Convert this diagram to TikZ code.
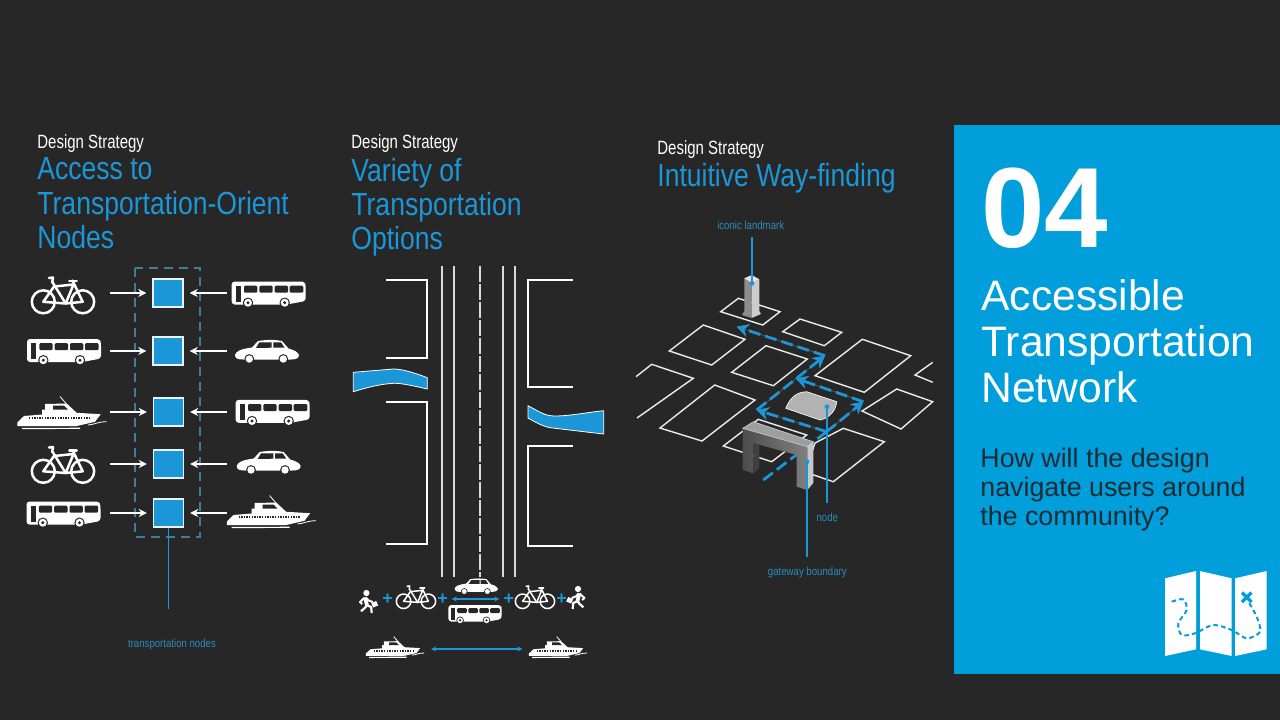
\documentclass[tikz,border=0pt]{standalone}
\usepackage{fontspec}
\usepackage{tikz}
\usetikzlibrary{arrows.meta}
\setmainfont{Liberation Sans}
\newfontfamily\narrowfont[FakeStretch=0.83]{Liberation Sans}
\newfontfamily\headfont[FakeStretch=0.78]{Liberation Sans}
\definecolor{bgdark}{HTML}{272727}
\definecolor{panelblue}{HTML}{009EDA}
\definecolor{stratblue}{HTML}{1B96D6}
\definecolor{notetext}{HTML}{2A8DBF}
\definecolor{dashteal}{HTML}{3A7F9F}
\definecolor{paneltext}{HTML}{1E2B33}
\tikzset{
  nodebox/.style={draw=white!90!stratblue,fill=stratblue,line width=0.7pt,minimum width=15pt,minimum height=14pt,inner sep=0pt},
  modearrow/.style={draw=white,line width=0.75pt,-{Stealth[length=4pt,width=4pt]},shorten >=3pt},
  bluearrow/.style={draw=stratblue,line width=0.75pt,{Stealth[length=2.5pt,width=2.5pt]}-{Stealth[length=2.5pt,width=2.5pt]}},
  plotline/.style={draw=white!92!black,line width=0.7pt,line join=miter},
  routearrow/.style={draw=stratblue,line width=1.4pt,dash pattern=on 6pt off 2.5pt,-{Stealth[length=6pt,width=6.5pt]},preaction={draw=black!62,line width=0.3pt,solid}},
  noteline/.style={draw=stratblue,line width=0.7pt},
  notetextstyle/.style={text=notetext,font=\narrowfont\fontsize{5.8}{6.5}\selectfont,inner sep=1.5pt},
  headstyle/.style={text=white,font=\headfont\fontsize{9.6}{11}\selectfont,anchor=base west,inner sep=0pt},
  titlestyle/.style={text=stratblue,font=\narrowfont\fontsize{16}{17.2}\selectfont,anchor=north west,align=left,inner sep=0pt},
  plusstyle/.style={text=stratblue,font=\bfseries\fontsize{9}{9}\selectfont,inner sep=0pt},
  busicon/.pic={
    \fill [white,rounded corners=1.5] (-37,-12.5) -- (36,-12.5) -- (37,-8) -- (37,7) -- (18,10.5) -- (-37,10.5) -- cycle;
    \fill [bgdark] (-32.7,-8.3) rectangle (-27.7,7.7);
    \fill [bgdark,rounded corners=0.6] (-24.7,-8.3) rectangle (-11.3,-1.3);
    \fill [bgdark,rounded corners=0.6] (-9.3,-8.3) rectangle (4,-1.3);
    \fill [bgdark,rounded corners=0.6] (6,-8.3) rectangle (19.3,-1.3);
    \fill [bgdark,rounded corners=0.6] (21,-8.3) rectangle (34.7,-1.3);
    \fill [bgdark] (-20.7,8.7) circle (5.2);
    \fill [white] (-20.7,8.7) circle (4);
    \fill [bgdark] (-20.7,8.7) circle (1.7);
    \fill [bgdark] (16,8.7) circle (5.2);
    \fill [white] (16,8.7) circle (4);
    \fill [bgdark] (16,8.7) circle (1.7);
  },
  caricon/.pic={
    \fill [white] (-32,3) .. controls (-31,-1) and (-26,-3) .. (-15,-4.5) -- (-9,-11) .. controls (0,-12.5) and (8,-12.5) .. (15,-11) -- (21.5,-3.5) .. controls (27,-2) and (31,0) .. (32,3) .. controls (32,6.5) and (28,7.5) .. (24,7.5) -- (-24,7.5) .. controls (-29,7.5) and (-32,6.5) .. (-32,3) -- cycle;
    \fill [bgdark] (-7.7,-9.7) -- (4.7,-9.7) -- (4.7,-4.3) -- (-11,-4.1) -- cycle;
    \fill [bgdark] (6.3,-9.7) -- (14,-9.7) -- (17.5,-4.3) -- (6.3,-4.3) -- cycle;
    \fill [bgdark] (-17.7,7) circle (4.9);
    \fill [white] (-17.7,7) circle (3.7);
    \fill [bgdark] (16.3,7) circle (4.9);
    \fill [white] (16.3,7) circle (3.7);
  },
  bikeicon/.pic={
    \draw [white,line cap=round,line join=round] (-19.7,6.3) circle (11.5);
    \draw [white,line cap=round,line join=round] (19.7,6.3) circle (11.5);
    \draw [white,line cap=round,line join=round] (-19.7,6.3) -- (-9,-9) -- (10.5,-11) -- (2.7,8) -- cycle;
    \draw [white,line cap=round,line join=round] (-10.3,-13) -- (2.7,8) -- (19.7,6.3) -- (9.5,-15);
    \draw [white,line cap=round,line join=round] (-14,-17.5) -- (-10,-18) -- (-10.8,-13);
    \draw [white,line cap=round,line join=round] (6.3,-14.7) -- (13.7,-14.7);
  },
  boaticon/.pic={
    \fill [white] (-44.7,10) -- (-38,3.5) -- (-20,2) -- (-20,-3) -- (-17,-3) -- (-17,-8.5) -- (4.7,-9) -- (14.7,0.3) -- (38.7,1.7) -- (33,9.3) -- (14.7,13.5) -- (-44.7,13.5) -- cycle;
    \fill [bgdark] (-9,-7) -- (2,-7) -- (6,-3) -- (-9,-3) -- cycle;
    \draw [bgdark,line width=1pt,dash pattern=on 0.7pt off 0.6pt] (-33,5.5) -- (28,5.5);
    \draw [white,line width=0.4pt] (-2,-16) -- (4.7,-8.3);
    \draw [white,line width=0.6pt] (-40,16) -- (18,15.8);
    \draw [white,line width=0.4pt] (26,12.5) .. controls (33,12) and (36,9) .. (44.7,9.3);
  },
  walkericon/.pic={
    \fill [white] (-1.3,-9) circle (3.1);
    \draw [white,line width=1.9pt] (-2.6,-4.5) -- (-0.7,3.3);
    \draw [white,line width=1.1pt,line join=round] (-0.7,3.3) -- (-3,6) -- (-6.7,9.3);
    \draw [white,line width=1.1pt,line join=round] (-0.7,3.3) -- (3.5,5) -- (4,11);
    \draw [white,line width=1pt,line join=round] (-3,-4.5) -- (-7.7,0) -- (-5.5,2);
    \draw [white,line width=1pt,line join=round] (-2,-4.5) -- (1,-1.5) -- (5,0);
    \fill [white] (3.5,1) -- (8.5,-1) -- (10.5,3.5) -- (5.5,5.5) -- cycle;
  },
}
\begin{document}
\begin{tikzpicture}[x=0.5pt,y=-0.5pt]
  \useasboundingbox (0,0) rectangle (1280,720);
  \fill [bgdark] (0,0) rectangle (1280,720);

  \node [headstyle] (headA) at (37,148) {Design Strategy};
  \node [titlestyle] (titleA) at (37,157.5) {Access to\\Transportation-Orient\\Nodes};
  \node [headstyle] (headB) at (351,148) {Design Strategy};
  \node [titlestyle] (titleB) at (351,157.5) {Variety of\\Transportation\\Options};
  \node [headstyle] (headC) at (657,154) {Design Strategy};
  \node [titlestyle] (titleC) at (657,163) {Intuitive Way-finding};

  \draw [dashteal,line width=0.6pt,dash pattern=on 4.5pt off 3pt] (135,268) rectangle (200,537);
  \node [nodebox] (n1) at (168,293) {};
  \node [nodebox] (n2) at (168,351) {};
  \node [nodebox] (n3) at (168.5,412) {};
  \node [nodebox] (n4) at (168.5,464) {};
  \node [nodebox] (n5) at (168.5,513) {};
  \coordinate (l1) at (110,293);
  \coordinate (l2) at (110,351);
  \coordinate (l3) at (110,412);
  \coordinate (l4) at (110,464);
  \coordinate (l5) at (110,513);
  \coordinate (r1) at (227,293);
  \coordinate (r2) at (227,351);
  \coordinate (r3) at (227,412);
  \coordinate (r4) at (227,464);
  \coordinate (r5) at (227,513);
  \draw [modearrow] (l1) -- (n1);
  \draw [modearrow] (l2) -- (n2);
  \draw [modearrow] (l3) -- (n3);
  \draw [modearrow] (l4) -- (n4);
  \draw [modearrow] (l5) -- (n5);
  \draw [modearrow] (r1) -- (n1);
  \draw [modearrow] (r2) -- (n2);
  \draw [modearrow] (r3) -- (n3);
  \draw [modearrow] (r4) -- (n4);
  \draw [modearrow] (r5) -- (n5);
  \pic [line width=1.25pt] (bikeA) at (63,295.5) {bikeicon};
  \pic (busA) at (64,351.5) {busicon};
  \pic (boatA) at (62,412.5) {boaticon};
  \pic [line width=1.25pt] (bikeB) at (63,465) {bikeicon};
  \pic (busB) at (63.5,514) {busicon};
  \pic (busC) at (268.7,294) {busicon};
  \pic (carA) at (267,352) {caricon};
  \pic (busD) at (272.7,412.3) {busicon};
  \pic (carB) at (268.7,463) {caricon};
  \pic (boatB) at (271.5,511.5) {boaticon};
  \coordinate (nodesend) at (168.5,609);
  \draw [noteline] (n5) -- (nodesend);
  \node [notetextstyle] (nodeslabel) at (172,644) {transportation nodes};

  \draw [white,line width=0.9pt] (386,280) -- (427,280) -- (427,358) -- (386,358);
  \draw [white,line width=0.9pt] (386,402) -- (427,402) -- (427,544) -- (386,544);
  \draw [white,line width=0.9pt] (573,280) -- (528,280) -- (528,387) -- (573,387);
  \draw [white,line width=0.9pt] (573,446) -- (528,446) -- (528,546) -- (573,546);
  \draw [white!85!black,line width=0.7pt] (442,266) -- (442,577);
  \draw [white!85!black,line width=0.7pt] (454,266) -- (454,577);
  \draw [white!85!black,line width=0.7pt] (503,266) -- (503,577);
  \draw [white!85!black,line width=0.7pt] (515,266) -- (515,577);
  \draw [white!85!black,line width=0.7pt,dash pattern=on 8pt off 1pt] (480,266) -- (480,577);
  \draw [white,fill=stratblue,line width=0.4pt] (353.3,372.3) -- (393.3,369) .. controls (400,369) and (410,371) .. (427.3,377.7) -- (427.3,389) .. controls (410,385) and (400,383) .. (393.3,383.3) .. controls (380,384) and (365,388) .. (353.3,391.7) -- cycle;
  \draw [white,fill=stratblue,line width=0.4pt] (528,405.7) .. controls (540,412) and (545,416) .. (555,416) .. controls (570,416) and (590,412) .. (603.7,410.7) -- (603.7,434) -- (550,427.7) .. controls (542,426) and (535,422) .. (528,418) -- cycle;

  \pic [xscale=-1] (walkerA) at (576.7,598) {walkericon};
  \pic (walkerB) at (367.7,602) {walkericon};
  \node [plusstyle] (plusA) at (387.7,599) {+};
  \pic [scale=0.63,line width=0.75pt] (bikeC) at (416,597.3) {bikeicon};
  \node [plusstyle] (plusB) at (442.7,599) {+};
  \coordinate (laneL) at (451.7,599);
  \coordinate (laneR) at (499.3,599);
  \draw [bluearrow] (laneL) -- (laneR);
  \pic [scale=0.68] (carC) at (476.3,586.7) {caricon};
  \pic [scale=0.72] (busE) at (475,614) {busicon};
  \node [plusstyle] (plusC) at (509,599) {+};
  \pic [scale=0.63,line width=0.75pt] (bikeD) at (535,597.3) {bikeicon};
  \node [plusstyle] (plusD) at (561.7,599) {+};
  \pic [scale=0.65] (boatC) at (395,647) {boaticon};
  \pic [scale=0.65] (boatD) at (558,647) {boaticon};
  \coordinate (ferryL) at (431,649);
  \coordinate (ferryR) at (522.3,649);
  \draw [bluearrow] (ferryL) -- (ferryR);

  \draw [plotline] (720.7,311.7) -- (738.3,298.3) -- (780,311.7) -- (762.7,325) -- cycle;
  \draw [plotline] (669.3,351) -- (703.3,325) -- (745,339.3) -- (711.7,365) -- cycle;
  \draw [plotline] (782.7,331.7) -- (800,319) -- (841.7,332.3) -- (824.3,345.7) -- cycle;
  \draw [plotline] (731.7,372.3) -- (766,345.7) -- (807.3,359) -- (773.3,385.7) -- cycle;
  \draw [plotline] (815,375.7) -- (862.3,339.3) -- (910.7,355.7) -- (864.3,392.3) -- cycle;
  \draw [plotline] (636,376.7) -- (651.7,364.3) -- (693.3,378.3) -- (637,418);
  \draw [plotline] (660,428) -- (714.7,385) -- (755,400) -- (702,441) -- cycle;
  \draw [plotline] (932.7,362.3) -- (915,375) -- (932.7,382.3);
  \draw [plotline] (862,411) -- (896.7,389) -- (932.7,401.7) -- (901,429) -- cycle;
  \draw [plotline] (723.3,446) -- (758.3,419.3) -- (806.7,435) -- (771.7,461.7) -- cycle;
  \draw [plotline] (815,443) -- (843.3,428.3) -- (884.3,441.7) -- (833.3,481.7) -- (805,472) -- cycle;

  \fill [black!45] (742,315) -- (744.3,311) -- (744.3,278.3) -- (751.7,283) -- (751.7,318) -- cycle;
  \fill [black!20] (751.7,283) -- (759.3,279.3) -- (759.3,311) -- (761,314) -- (751.7,318) -- cycle;
  \fill [black!10] (744.3,278.3) -- (751.7,275) -- (759.3,279.3) -- (751.7,283) -- cycle;

  \coordinate (r1start) at (825,355.7);
  \coordinate (r1end) at (736.7,326.7);
  \coordinate (r2start) at (756.7,410);
  \coordinate (r3start) at (863.3,401.7);
  \coordinate (r3end) at (795.7,378.3);
  \coordinate (r4start) at (826.7,431.7);
  \coordinate (r5start) at (763.3,480);
  \draw [routearrow] (r1start) -- (r1end);
  \draw [routearrow] (r2start) -- (r1start);
  \draw [routearrow] (r3start) -- (r3end);
  \draw [routearrow] (r4start) -- (r3start);
  \draw [routearrow] (r4start) -- (r2start);
  \draw [stratblue,line width=1.4pt,dash pattern=on 6pt off 2.5pt] (r5start) -- (r4start);

  \draw [white,fill=black!30,line width=0.3pt] (785.7,408.3) .. controls (790,398) and (796,392) .. (806.7,391.7) -- (836.7,401.7) .. controls (836,410) and (830,418) .. (820,420) -- cycle;

  \shade [left color=black!70,right color=black!50] (742.7,428.3) -- (807.3,446.7) -- (807.3,490) -- (796.7,486.7) -- (796.7,455) -- (753.3,443) -- (753.3,473.3) -- (742.7,470) -- cycle;
  \fill [black!75] (753.3,443) -- (759.3,445) -- (759.3,468) -- (753.3,473.3) -- cycle;
  \fill [black!38] (742.7,428.3) -- (753.3,421.7) -- (813.3,441.7) -- (807.3,446.7) -- cycle;
  \fill [black!22] (807.3,446.7) -- (813.3,441.7) -- (813.3,483) -- (807.3,490) -- cycle;
  \draw [white!80!black,line width=0.3pt] (742.7,428.3) -- (753.3,421.7) -- (813.3,441.7) -- (807.3,446.7) -- cycle;

  \node [notetextstyle] (iconiclabel) at (750.7,225) {iconic landmark};
  \coordinate (towerdot) at (752,283.3);
  \coordinate (towerline) at (752,236.7);
  \draw [noteline] (towerline) -- (towerdot);
  \fill [stratblue] (towerdot) circle (2.4);
  \node [notetextstyle] (nodelabel) at (827.3,517.7) {node};
  \coordinate (nodedot) at (827,406.7);
  \coordinate (nodeline) at (827,503.3);
  \draw [noteline] (nodeline) -- (nodedot);
  \fill [stratblue] (nodedot) circle (2.4);
  \node [notetextstyle] (gatelabel) at (807.3,572.7) {gateway boundary};
  \coordinate (gatedot) at (807,461.7);
  \coordinate (gateline) at (807,556.7);
  \draw [noteline] (gateline) -- (gatedot);
  \fill [stratblue] (gatedot) circle (2.4);

  \fill [panelblue] (954,125) rectangle (1280,674);
  \node [anchor=base west,text=white,inner sep=0pt,font=\bfseries\fontsize{57}{57}\selectfont] (numlabel) at (981,247) {04};
  \node [anchor=north west,text=white,inner sep=0pt,align=left,font=\fontsize{21.3}{23}\selectfont] (panelhead) at (981,279) {Accessible\\Transportation\\Network};
  \node [anchor=north west,text=paneltext,inner sep=0pt,align=left,font=\fontsize{13.4}{14.4}\selectfont] (panelquestion) at (980,448) {How will the design\\navigate users around\\the community?};

  \fill [white] (1165,578.3) -- (1196,571) -- (1196,649.3) -- (1165,656) -- cycle;
  \fill [white] (1200,571) -- (1231.7,578.3) -- (1231.7,656) -- (1200,649.3) -- cycle;
  \fill [white] (1235,578.3) -- (1266.7,571) -- (1266.7,649.3) -- (1235,656) -- cycle;
  \draw [panelblue,line width=1pt,dash pattern=on 2.3pt off 1.6pt] plot [smooth] coordinates {(1171.7,601.7) (1183.3,599.3) (1186.7,610) (1178.3,623.3) (1181.7,635) (1195,633.3) (1213.3,625) (1231.7,630) (1246.7,638.3) (1260,631.7) (1256.7,616.7) (1248.3,601.7)};
  \draw [panelblue,line width=1.7pt] (1242,592.5) -- (1251.5,602);
  \draw [panelblue,line width=1.7pt] (1251.5,592.5) -- (1242,602);
\end{tikzpicture}
\end{document}
